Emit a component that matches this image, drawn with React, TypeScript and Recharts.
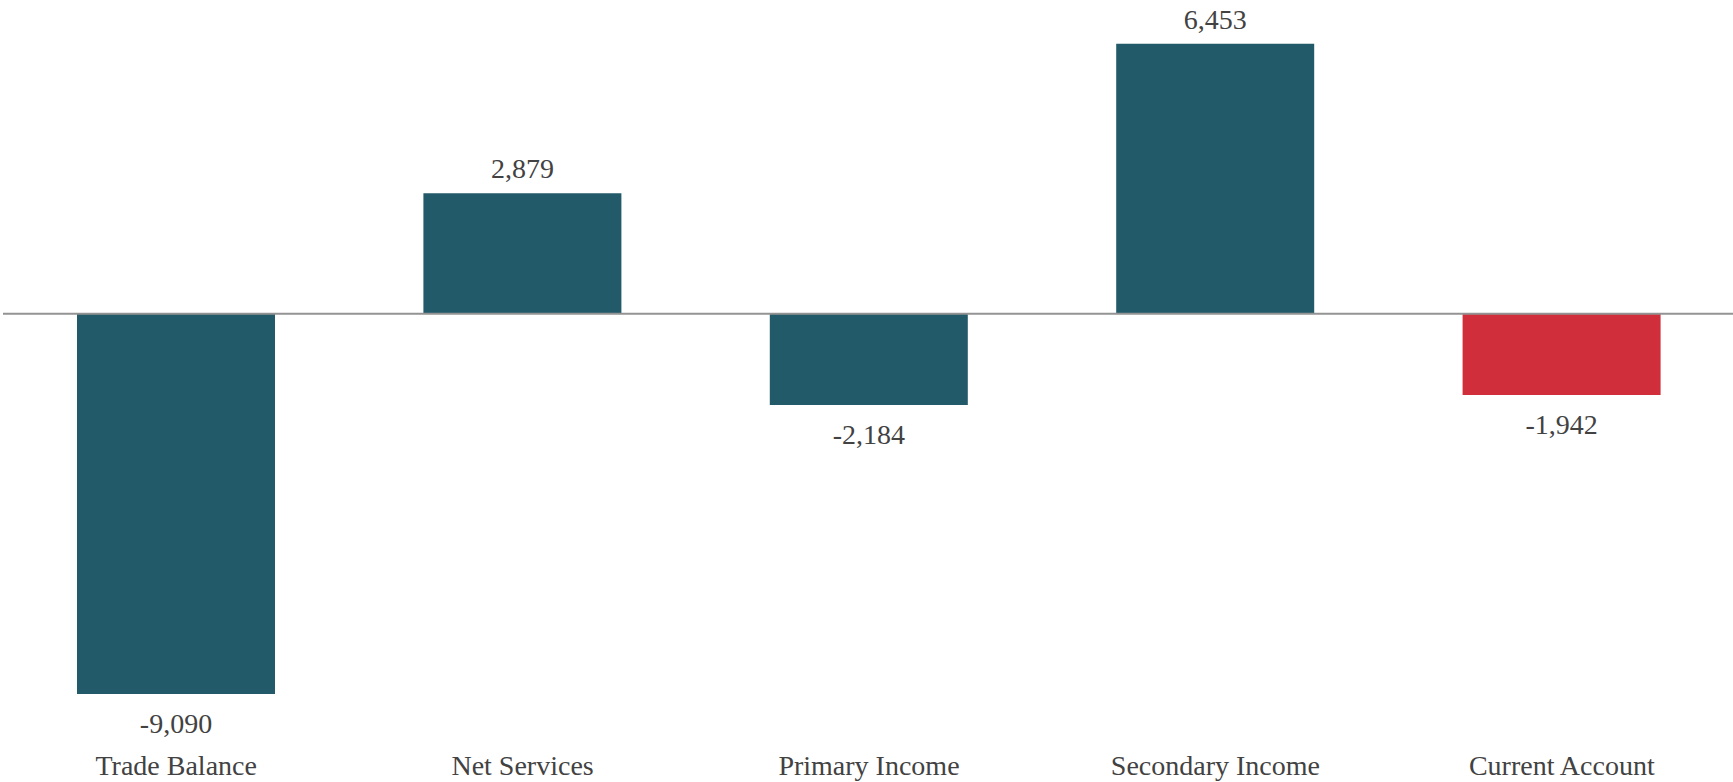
import React from "react";
import {
  BarChart,
  Bar,
  Cell,
  XAxis,
  YAxis,
  ReferenceLine,
  LabelList,
} from "recharts";

const categories = [
  "Trade Balance",
  "Net Services",
  "Primary Income",
  "Secondary Income",
  "Current Account",
];
const values = [-9090, 2879, -2184, 6453, -1942];

const TEAL = "#225a69";
const RED = "#d12e3b";
const TEXT = "#424242";
const FONT = "'Liberation Serif', serif";

const chartData = categories.map((name, i) => ({ name, value: values[i] }));

function ValueLabel(props: any) {
  const { x, y, width, height, value } = props;
  const cx = x + width / 2;
  const top = Math.min(y, y + height);
  const bottom = Math.max(y, y + height);
  const ty = value >= 0 ? top - 15 : bottom + 39;
  return (
    <text
      x={cx}
      y={ty}
      textAnchor="middle"
      fill={TEXT}
      fontFamily={FONT}
      fontSize={28}
    >
      {value.toLocaleString("en-US")}
    </text>
  );
}

function CategoryTick(props: any) {
  const { x, y, payload } = props;
  return (
    <text
      x={x}
      y={y + 43}
      textAnchor="middle"
      fill={TEXT}
      fontFamily={FONT}
      fontSize={28}
    >
      {payload.value}
    </text>
  );
}

export default function App() {
  return (
    <div style={{ position: "absolute", left: 0, top: 0, background: "#fff" }}>
      <BarChart
        width={1733}
        height={782}
        data={chartData}
        margin={{ top: 0, right: -2, bottom: 0, left: 3 }}
      >
        <YAxis hide domain={[-10000, 7500]} />
        <XAxis
          dataKey="name"
          height={50}
          axisLine={false}
          tickLine={false}
          tickSize={0}
          tickMargin={0}
          interval={0}
          tick={<CategoryTick />}
        />
        <Bar dataKey="value" barSize={198} isAnimationActive={false}>
          {chartData.map((d) => (
            <Cell
              key={d.name}
              fill={d.name === "Current Account" ? RED : TEAL}
            />
          ))}
          <LabelList dataKey="value" content={<ValueLabel />} />
        </Bar>
        <ReferenceLine y={0} stroke="#939393" strokeWidth={2} ifOverflow="extendDomain" />
      </BarChart>
    </div>
  );
}
